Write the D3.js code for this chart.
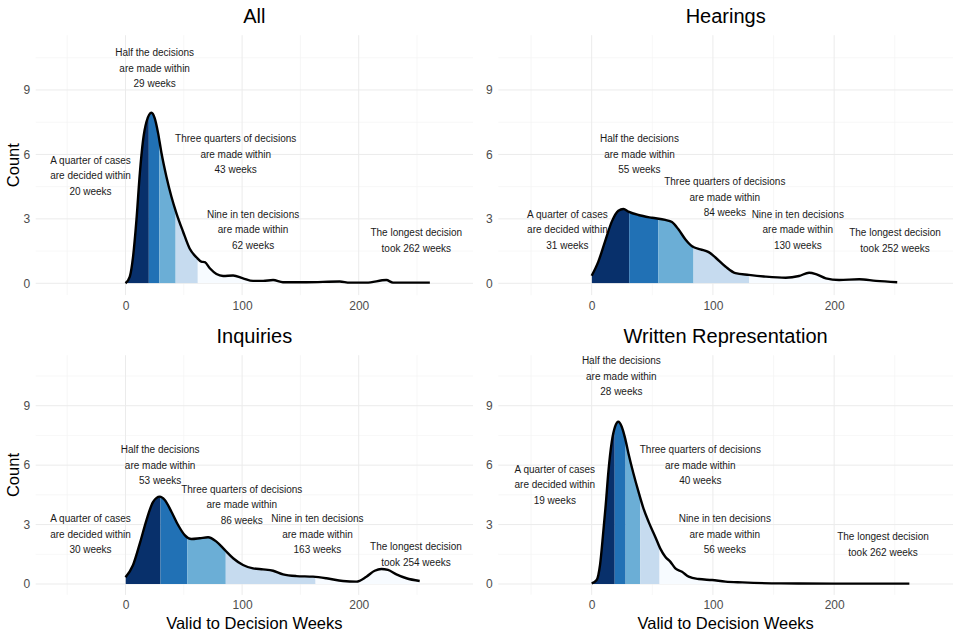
<!DOCTYPE html>
<html lang="en">
<head>
<meta charset="UTF-8">
<title>Valid to Decision Weeks</title>
<script src="https://cdn.jsdelivr.net/npm/d3@7"></script>
<style>
    body { margin: 0; background: #fff; }
    svg text { font-family: "Liberation Sans", Arial, sans-serif; }
    .grid-major { stroke: #ebebeb; stroke-width: 1; }
    .grid-minor { stroke: #f4f4f4; stroke-width: 0.7; }
    .tick text { fill: #4d4d4d; font-size: 12px; }
    .note { fill: #1a1a1a; font-size: 10px; }
    .panel-title { fill: #000; font-size: 20px; }
    .axis-title { fill: #000; font-size: 16.5px; }
</style>
</head>
<body>
<svg id="chart" width="960" height="640"></svg>
<script>
// panel names and quantile weeks (25%, 50%, 75%, 90%, max)
const panelTitles = ["All", "Hearings", "Inquiries", "Written Representation"];
const quantileWeeks = [
    [20, 29, 43, 62, 262],
    [31, 55, 84, 130, 252],
    [30, 53, 86, 163, 254],
    [19, 28, 40, 56, 262]
];

// density curves
const allWeeks = [0, 3.7, 6.5, 9.4, 12.3, 15.1, 18, 22.3, 25.1, 28, 30.9, 35.1, 39.4, 43.7, 49.4, 55, 61, 65, 68, 72.3, 78, 83.7, 92.3, 100.8, 109.4, 118, 126.6, 135, 155, 183.7, 192.3, 206.6, 223.7, 229.4, 261];
const allCount = [0, 0.31, 1.24, 2.95, 5.12, 6.67, 7.52, 7.94, 7.68, 6.98, 6.05, 4.96, 4.03, 3.26, 2.40, 1.62, 1.2, 1.01, 0.98, 0.70, 0.43, 0.34, 0.36, 0.23, 0.11, 0.11, 0.15, 0.05, 0.05, 0.08, 0.03, 0.03, 0.15, 0.03, 0.03];

const hearingsWeeks = [0, 5.5, 11, 16.6, 22, 26.2, 30.3, 38.6, 49.7, 60.7, 66.2, 71.7, 77.2, 82.8, 89.7, 96.5, 102.1, 110.3, 118.6, 129.6, 143.5, 160, 171, 179.3, 184.9, 193.1, 204.1, 220.7, 234.5, 252];
const hearingsCount = [0.35, 1.01, 1.94, 2.87, 3.38, 3.46, 3.34, 3.18, 3.05, 2.95, 2.85, 2.5, 2.05, 1.72, 1.58, 1.45, 1.2, 0.78, 0.47, 0.39, 0.31, 0.26, 0.34, 0.49, 0.43, 0.23, 0.15, 0.19, 0.11, 0.05];

const inquiriesWeeks = [0, 6.5, 12.3, 18, 23.7, 29.4, 33.7, 39.4, 45.1, 50.8, 56.6, 63.7, 70.8, 78, 85.1, 92.3, 100.8, 109.4, 118, 126.6, 135.1, 146.6, 160.8, 172.3, 186.5, 198, 206.6, 213.7, 219.4, 225.1, 232.3, 240.9, 252.3];
const inquiriesCount = [0.34, 0.96, 2.05, 3.23, 4.15, 4.41, 4.24, 3.65, 2.98, 2.47, 2.27, 2.31, 2.36, 2.14, 1.72, 1.30, 0.96, 0.79, 0.74, 0.67, 0.49, 0.40, 0.37, 0.29, 0.15, 0.12, 0.37, 0.67, 0.76, 0.71, 0.49, 0.29, 0.15];

const writtenWeeks = [0, 4.1, 6.9, 9.6, 11.6, 13.8, 16.6, 19.3, 22, 24.8, 27.6, 30.3, 34.4, 38.6, 42.7, 46.9, 52.4, 56.5, 60.7, 64.8, 69, 74.5, 80, 88.3, 99.3, 110.3, 124.2, 155.9, 200, 262];
const writtenCount = [0.03, 0.2, 0.96, 2.64, 3.99, 5.67, 7.18, 7.94, 8.19, 7.94, 7.35, 6.60, 5.59, 4.66, 3.82, 3.15, 2.39, 1.80, 1.38, 1.13, 0.79, 0.62, 0.37, 0.25, 0.20, 0.12, 0.08, 0.03, 0.02, 0.02];

const densityWeeks = [allWeeks, hearingsWeeks, inquiriesWeeks, writtenWeeks];
const densityCount = [allCount, hearingsCount, inquiriesCount, writtenCount];

// where each annotation sits, in data units (weeks, count)
const noteWeeks = [
    [-30, 25, 94.5, 109.4, 249.4],
    [-20, 39.4, 109.8, 170, 250.2],
    [-30, 29.7, 99.7, 164.6, 249.1],
    [-30.4, 24.5, 89.6, 109.8, 240.3]
];
const noteCount = [
    [5, 10, 6, 2.5, 2],
    [2.5, 6, 4, 2.5, 2],
    [2.5, 6, 4, 2.5, 1.5],
    [5, 10.5, 6, 2.5, 2]
];

const xTicks = [0, 100, 200];
const xMinor = [-50, 50, 150, 250];
const yTicks = [0, 3, 6, 9];
const yMinor = [1.5, 4.5, 7.5, 10.5];

const bandColors = ["#08306b", "#2171b5", "#6baed6", "#c6dbef", "#f7fbff"];

function noteLines(q, i) {
    if (i == 0) return ["A quarter of cases", "are decided within", q[0] + " weeks"];
    if (i == 1) return ["Half the decisions", "are made within", q[1] + " weeks"];
    if (i == 2) return ["Three quarters of decisions", "are made within", q[2] + " weeks"];
    if (i == 3) return ["Nine in ten decisions", "are made within", q[3] + " weeks"];
    return ["The longest decision", "took " + q[4] + " weeks"];
}

const svg = d3.select("#chart");

panelTitles.forEach(function (title, p) {
    var col = p % 2, row = Math.floor(p / 2);
    var g = svg.append("g").attr("transform", "translate(" + (col * 480) + "," + (row * 320) + ")");

    var left = col == 0 ? 35.7 : 18.3, right = 473;
    var top = 35.2, bottom = row == 0 ? 295.1 : 274.9;

    var x = d3.scaleLinear().domain([-77, 298]).range([left, right]);
    var y = d3.scaleLinear().domain([-0.55, 11.55]).range([bottom, top]);

    // grid
    g.selectAll(".vminor").data(xMinor).enter().append("line")
        .attr("class", "grid-minor")
        .attr("x1", d => x(d)).attr("x2", d => x(d)).attr("y1", top).attr("y2", bottom);
    g.selectAll(".hminor").data(yMinor).enter().append("line")
        .attr("class", "grid-minor")
        .attr("y1", d => y(d)).attr("y2", d => y(d)).attr("x1", left).attr("x2", right);
    g.selectAll(".vmajor").data(xTicks).enter().append("line")
        .attr("class", "grid-major")
        .attr("x1", d => x(d)).attr("x2", d => x(d)).attr("y1", top).attr("y2", bottom);
    g.selectAll(".hmajor").data(yTicks).enter().append("line")
        .attr("class", "grid-major")
        .attr("y1", d => y(d)).attr("y2", d => y(d)).attr("x1", left).attr("x2", right);

    var pts = densityWeeks[p].map((w, i) => [w, densityCount[p][i]]);

    // area under the curve, used to clip the quantile bands
    var area = d3.area().curve(d3.curveMonotoneX)
        .x(d => x(d[0])).y0(y(0)).y1(d => y(d[1]));
    var clipId = "clip" + p;
    g.append("clipPath").attr("id", clipId).append("path").attr("d", area(pts));

    var q = quantileWeeks[p];
    var edges = [densityWeeks[p][0]].concat(q);
    g.append("g").attr("clip-path", "url(#" + clipId + ")")
        .selectAll("rect").data(bandColors).enter().append("rect")
        .attr("x", (c, i) => x(edges[i]))
        .attr("width", (c, i) => x(edges[i + 1]) - x(edges[i]))
        .attr("y", y(11.55))
        .attr("height", y(0) - y(11.55))
        .attr("fill", c => c);

    var line = d3.line().curve(d3.curveMonotoneX).x(d => x(d[0])).y(d => y(d[1]));
    g.append("path").attr("d", line(pts))
        .attr("fill", "none").attr("stroke", "#000")
        .attr("stroke-width", 2.4).attr("stroke-linejoin", "round");

    // annotations
    noteWeeks[p].forEach(function (w, i) {
        var lines = noteLines(q, i);
        var t = g.append("text").attr("class", "note").attr("text-anchor", "middle");
        lines.forEach(function (s, j) {
            t.append("tspan")
                .attr("x", x(w))
                .attr("y", y(noteCount[p][i]) + (j - (lines.length - 1) / 2) * 15.5)
                .attr("dy", "0.35em")
                .text(s);
        });
    });

    // axes
    var xa = g.append("g").attr("transform", "translate(0," + bottom + ")")
        .call(d3.axisBottom(x).tickValues(xTicks).tickSize(0).tickPadding(6));
    xa.select(".domain").remove();
    var ya = g.append("g").attr("transform", "translate(" + left + ",0)")
        .call(d3.axisLeft(y).tickValues(yTicks).tickSize(0).tickPadding(5.5));
    ya.select(".domain").remove();
    g.selectAll(".tick text").attr("font-family", null);

    g.append("text").attr("class", "panel-title")
        .attr("text-anchor", "middle")
        .attr("x", (left + right) / 2).attr("y", 23.3)
        .text(title);

    if (col == 0) {
        g.append("text").attr("class", "axis-title")
            .attr("text-anchor", "middle")
            .attr("transform", "translate(18.5," + ((top + bottom) / 2) + ") rotate(-90)")
            .text("Count");
    }
    if (row == 1) {
        g.append("text").attr("class", "axis-title")
            .attr("text-anchor", "middle")
            .attr("x", (left + right) / 2).attr("y", 309)
            .text("Valid to Decision Weeks");
    }
});
</script>
</body>
</html>
